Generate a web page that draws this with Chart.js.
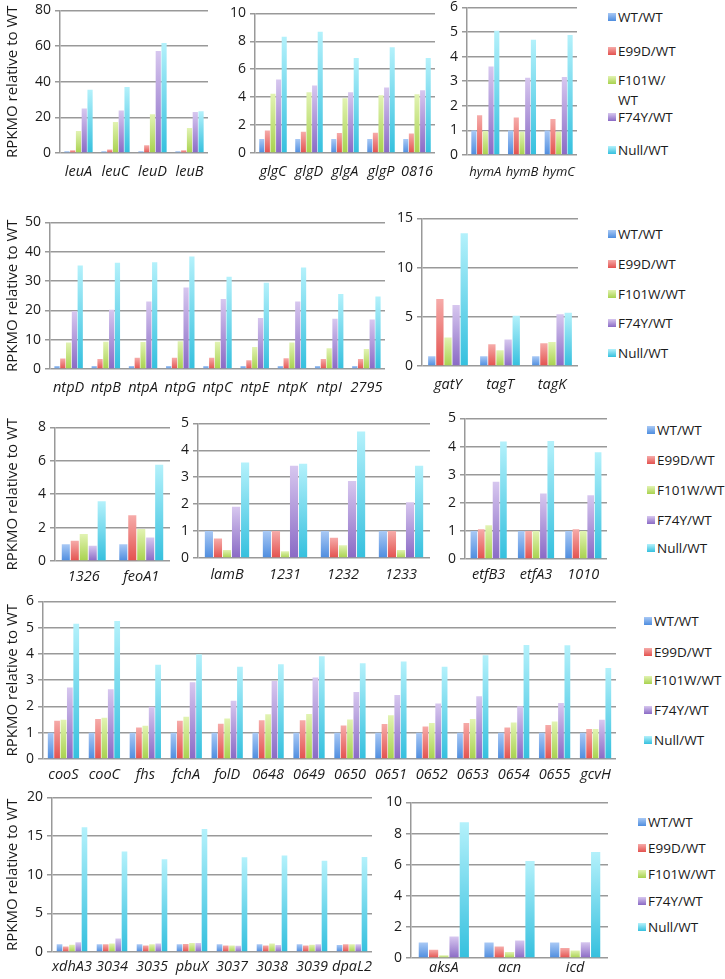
<!DOCTYPE html>
<html>
<head>
<meta charset="utf-8">
<script src="https://cdn.jsdelivr.net/npm/chart.js@4.4.1/dist/chart.umd.min.js"></script>
<style>
  html, body { margin: 0; padding: 0; background: #fff; }
  #fig { position: relative; width: 725px; height: 979px; overflow: hidden;
         font-family: 'Open Sans', sans-serif; color: #1a1a1a; }
  #fig canvas { position: absolute; }
  .item { position: absolute; font-size: 13.5px; line-height: 16px; padding-left: 10px; white-space: nowrap; }
  .item .sw { position: absolute; left: 0; top: 4px; width: 8px; height: 8px; }
</style>
</head>
<body>
<div id="fig"></div>
<script>
const seriesNames = ['WT/WT', 'E99D/WT', 'F101W/WT', 'F74Y/WT', 'Null/WT'];

// row 1
const leuGenes = ['leuA', 'leuC', 'leuD', 'leuB'];
const leuWT    = [1, 1, 1, 1];
const leuE99D  = [1.5, 2.0, 4.3, 1.5];
const leuF101W = [12.3, 17.4, 21.7, 14.0];
const leuF74Y  = [24.9, 23.9, 57.2, 23.0];
const leuNull  = [35.5, 37.0, 61.7, 23.4];

const glgGenes = ['glgC', 'glgD', 'glgA', 'glgP', '0816'];
const glgWT    = [1, 1, 1, 1, 1];
const glgE99D  = [1.62, 1.52, 1.43, 1.45, 1.4];
const glgF101W = [4.24, 4.36, 3.93, 4.14, 4.2];
const glgF74Y  = [5.26, 4.83, 4.36, 4.7, 4.5];
const glgNull  = [8.33, 8.69, 6.8, 7.57, 6.8];

const hymGenes = ['hymA', 'hymB', 'hymC'];
const hymWT    = [1, 1, 1];
const hymE99D  = [1.62, 1.52, 1.46];
const hymF101W = [0.98, 0.95, 0.95];
const hymF74Y  = [3.6, 3.14, 3.17];
const hymNull  = [5.05, 4.68, 4.88];

// row 2
const ntpGenes = ['ntpD', 'ntpB', 'ntpA', 'ntpG', 'ntpC', 'ntpE', 'ntpK', 'ntpI', '2795'];
const ntpWT    = [1, 1, 1, 1, 1, 1, 1, 1, 1];
const ntpE99D  = [3.6, 3.4, 3.8, 3.8, 3.8, 3.0, 3.7, 3.4, 3.4];
const ntpF101W = [9.0, 9.3, 9.2, 9.5, 9.3, 7.5, 9.0, 7.1, 6.8];
const ntpF74Y  = [19.7, 20.2, 23.0, 27.8, 23.9, 17.4, 23.0, 17.1, 16.9];
const ntpNull  = [35.3, 36.2, 36.4, 38.4, 31.5, 29.4, 34.6, 25.6, 24.7];

const gatGenes = ['gatY', 'tagT', 'tagK'];
const gatWT    = [1, 1, 1];
const gatE99D  = [6.8, 2.2, 2.3];
const gatF101W = [2.9, 1.6, 2.45];
const gatF74Y  = [6.2, 2.7, 5.25];
const gatNull  = [13.5, 5.1, 5.4];

// row 3
const feoGenes = ['1326', 'feoA1'];
const feoWT    = [1, 1];
const feoE99D  = [1.21, 2.74];
const feoF101W = [1.61, 1.91];
const feoF74Y  = [0.91, 1.41];
const feoNull  = [3.58, 5.77];

const lamGenes = ['lamB', '1231', '1232', '1233'];
const lamWT    = [1, 1, 1, 1];
const lamE99D  = [0.72, 1.0, 0.75, 1.0];
const lamF101W = [0.3, 0.25, 0.47, 0.3];
const lamF74Y  = [1.9, 3.43, 2.86, 2.07];
const lamNull  = [3.55, 3.5, 4.7, 3.43];

const etfGenes = ['etfB3', 'etfA3', '1010'];
const etfWT    = [1, 1, 1];
const etfE99D  = [1.06, 1.0, 1.06];
const etfF101W = [1.2, 1.0, 1.0];
const etfF74Y  = [2.75, 2.33, 2.27];
const etfNull  = [4.18, 4.2, 3.8];

// row 4
const cooGenes = ['cooS', 'cooC', 'fhs', 'fchA', 'folD', '0648', '0649', '0650', '0651', '0652', '0653', '0654', '0655', 'gcvH'];
const cooWT    = [1, 1, 1, 1, 1, 1, 1, 1, 1, 1, 1, 1, 1, 1];
const cooE99D  = [1.46, 1.52, 1.2, 1.46, 1.34, 1.48, 1.48, 1.28, 1.33, 1.24, 1.37, 1.2, 1.29, 1.14];
const cooF101W = [1.49, 1.57, 1.27, 1.61, 1.54, 1.7, 1.71, 1.5, 1.67, 1.37, 1.52, 1.39, 1.43, 1.14];
const cooF74Y  = [2.72, 2.66, 1.99, 2.92, 2.22, 2.97, 3.1, 2.55, 2.44, 2.11, 2.39, 2.01, 2.13, 1.49];
const cooNull  = [5.15, 5.25, 3.59, 3.99, 3.51, 3.61, 3.91, 3.65, 3.71, 3.51, 3.95, 4.34, 4.33, 3.46];

// row 5
const xdhGenes = ['xdhA3', '3034', '3035', 'pbuX', '3037', '3038', '3039', 'dpaL2'];
const xdhWT    = [1, 1, 1, 1, 1, 1, 1, 0.9];
const xdhE99D  = [0.7, 1.0, 0.85, 1.05, 0.85, 0.85, 0.85, 1.0];
const xdhF101W = [0.95, 1.1, 1.0, 1.15, 0.85, 1.1, 0.95, 1.0];
const xdhF74Y  = [1.25, 1.75, 1.1, 1.15, 0.8, 0.9, 1.0, 1.0];
const xdhNull  = [16.15, 13.0, 12.0, 15.9, 12.25, 12.47, 11.8, 12.3];

const aksGenes = ['aksA', 'acn', 'icd'];
const aksWT    = [1, 1, 1];
const aksE99D  = [0.53, 0.74, 0.64];
const aksF101W = [0.17, 0.38, 0.49];
const aksF74Y  = [1.38, 1.13, 1.02];
const aksNull  = [8.72, 6.23, 6.81];

const barTop    = ['#a9c9f5', '#f6aba9', '#e2f3b3', '#d7c7ef', '#b4f1fb'];
const barBottom = ['#4e8ddf', '#e3524f', '#a8d24e', '#8a6ac5', '#35c0de'];
const GRID = '#999999';
const FONT = "'Open Sans', sans-serif";
const PADT = 12, PADR = 12, XH = 30;
const fig = document.getElementById('fig');

function barFill(i) {
  return ctx => {
    const y = ctx.chart.scales.y;
    if (!y || ctx.raw == null) return barBottom[i];
    const top = y.getPixelForValue(ctx.raw);
    const base = y.getPixelForValue(0);
    if (!isFinite(top) || base - top < 1) return barBottom[i];
    const g = ctx.chart.ctx.createLinearGradient(0, top, 0, base);
    g.addColorStop(0, barTop[i]);
    g.addColorStop(1, barBottom[i]);
    return g;
  };
}

function panel(p) {
  const yW = p.title ? p.axisX : p.yW;
  const W = yW + (p.right - p.axisX) + PADR;
  const H = PADT + (p.bottom - p.top) + XH;
  const cv = document.createElement('canvas');
  cv.width = W; cv.height = H;
  cv.style.left = (p.axisX - yW) + 'px';
  cv.style.top = (p.top - PADT) + 'px';
  cv.style.width = W + 'px';
  cv.style.height = H + 'px';
  fig.appendChild(cv);

  new Chart(cv, {
    type: 'bar',
    data: {
      labels: p.labels,
      datasets: p.series.map((vals, i) => ({
        label: seriesNames[i],
        data: vals,
        backgroundColor: barFill(i),
        borderWidth: 0,
        categoryPercentage: 0.78,
        barPercentage: 0.9
      }))
    },
    options: {
      responsive: false,
      animation: false,
      devicePixelRatio: 1,
      layout: { padding: { top: PADT, right: PADR, left: 0, bottom: 0 } },
      plugins: { legend: { display: false }, tooltip: { enabled: false } },
      scales: {
        x: {
          grid: { display: false, drawTicks: false },
          border: { display: false },
          ticks: { font: { family: FONT, size: p.labelSize || 14.5, style: 'italic' }, color: '#1a1a1a',
                   padding: p.labelPad == null ? 10 : p.labelPad,
                   maxRotation: 0, minRotation: 0, autoSkip: false },
          afterFit: s => { s.height = XH; }
        },
        y: {
          min: 0, max: p.max,
          grid: { color: GRID, lineWidth: 1.5, tickLength: 5 },
          border: { color: GRID, width: 1.5 },
          ticks: { stepSize: p.step, font: { family: FONT, size: 14 }, color: '#1a1a1a', padding: 4 },
          title: p.title
            ? { display: true, text: 'RPKMO relative to WT', font: { family: FONT, size: 15 },
                color: '#1a1a1a', padding: { top: 4, bottom: 0 } }
            : { display: false },
          afterFit: s => { s.width = yW; }
        }
      }
    }
  });
}

// row 1
panel({ axisX: 60, top: 10, bottom: 153, right: 208, title: true, max: 80, step: 20,
        labels: leuGenes, series: [leuWT, leuE99D, leuF101W, leuF74Y, leuNull] });
panel({ axisX: 255, top: 13, bottom: 153, right: 435, yW: 35, max: 10, step: 2,
        labels: glgGenes, series: [glgWT, glgE99D, glgF101W, glgF74Y, glgNull] });
panel({ axisX: 467, top: 7, bottom: 155, right: 577, yW: 30, max: 6, step: 1, labelSize: 13, labelPad: 9,
        labels: hymGenes, series: [hymWT, hymE99D, hymF101W, hymF74Y, hymNull] });
// row 2
panel({ axisX: 50, top: 222, bottom: 369, right: 385, title: true, max: 50, step: 10,
        labels: ntpGenes, series: [ntpWT, ntpE99D, ntpF101W, ntpF74Y, ntpNull] });
panel({ axisX: 422, top: 218, bottom: 366, right: 578, yW: 32, max: 15, step: 5,
        labels: gatGenes, series: [gatWT, gatE99D, gatF101W, gatF74Y, gatNull] });
// row 3
panel({ axisX: 55, top: 427, bottom: 561, right: 170, title: true, max: 8, step: 2, labelPad: 7,
        labels: feoGenes, series: [feoWT, feoE99D, feoF101W, feoF74Y, feoNull] });
panel({ axisX: 198, top: 423, bottom: 558, right: 430, yW: 25, max: 5, step: 1, labelPad: 8,
        labels: lamGenes, series: [lamWT, lamE99D, lamF101W, lamF74Y, lamNull] });
panel({ axisX: 465, top: 418, bottom: 559, right: 607, yW: 28, max: 5, step: 1, labelPad: 7,
        labels: etfGenes, series: [etfWT, etfE99D, etfF101W, etfF74Y, etfNull] });
// row 4
panel({ axisX: 43, top: 601, bottom: 759, right: 616, title: true, max: 6, step: 1, labelPad: 7,
        labels: cooGenes, series: [cooWT, cooE99D, cooF101W, cooF74Y, cooNull] });
// row 5
panel({ axisX: 52, top: 797, bottom: 952, right: 372, title: true, max: 20, step: 5, labelPad: 6,
        labels: xdhGenes, series: [xdhWT, xdhE99D, xdhF101W, xdhF74Y, xdhNull] });
panel({ axisX: 411, top: 802, bottom: 958, right: 608, yW: 32, max: 10, step: 2, labelPad: 1,
        labels: aksGenes, series: [aksWT, aksE99D, aksF101W, aksF74Y, aksNull] });

// legends, one per row
const legends = [
  { x: 608, ys: [17, 51, 80, 117, 150], wrap: true },
  { x: 608, ys: [234, 264, 294, 323, 353] },
  { x: 647, ys: [430, 460, 490, 520, 548] },
  { x: 644, ys: [621, 652, 680, 710, 740] },
  { x: 638, ys: [822, 848, 874, 901, 927] }
];

legends.forEach(lg => {
  seriesNames.forEach((name, i) => {
    const it = document.createElement('div');
    it.className = 'item';
    it.style.left = lg.x + 'px';
    const sw = document.createElement('span');
    sw.className = 'sw';
    sw.style.background = `linear-gradient(${barTop[i]}, ${barBottom[i]})`;
    it.appendChild(sw);
    if (lg.wrap && name === 'F101W/WT') {
      it.style.lineHeight = '20px';
      it.style.top = (lg.ys[i] - 10) + 'px';
      sw.style.top = '6px';
      it.appendChild(document.createTextNode('F101W/'));
      it.appendChild(document.createElement('br'));
      it.appendChild(document.createTextNode('WT'));
    } else {
      it.style.top = (lg.ys[i] - 8) + 'px';
      it.appendChild(document.createTextNode(name));
    }
    fig.appendChild(it);
  });
});
</script>
</body>
</html>
